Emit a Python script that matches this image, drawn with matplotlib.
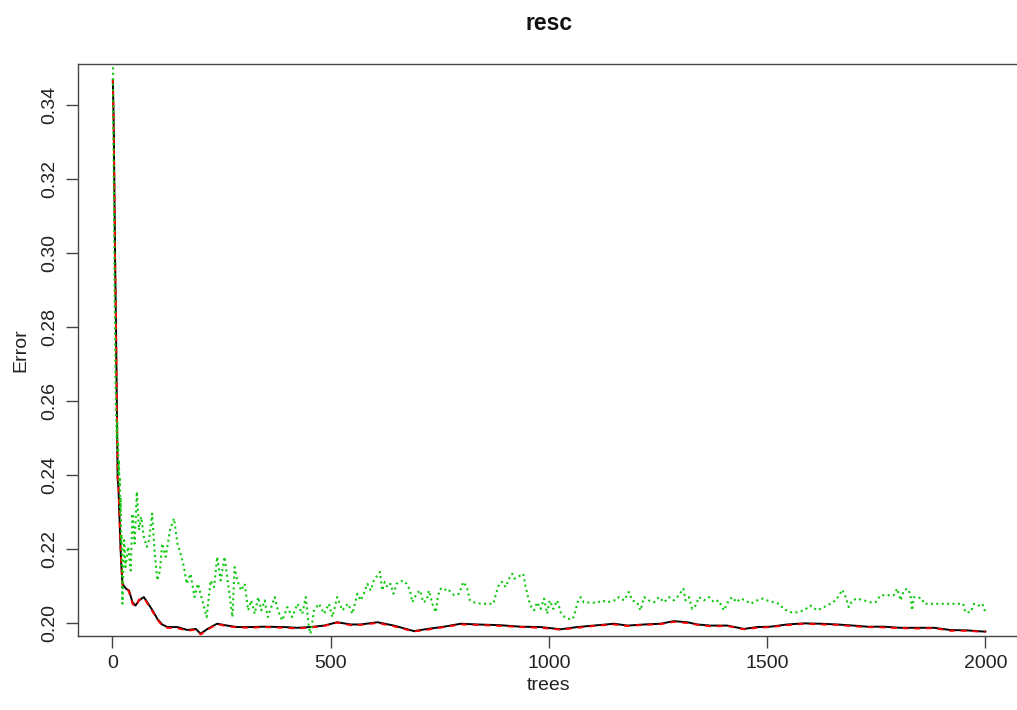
import numpy as np
import matplotlib.pyplot as plt

plt.rcParams['font.family'] = ['Liberation Sans', 'DejaVu Sans']

# OOB error (black) and class 1 error (red) share the same tree positions
trees_oob = [1, 3, 5, 6, 8, 9, 10, 11, 12, 14, 16, 18, 20, 23, 31, 38, 46, 53, 61, 72,
             80, 92, 103, 114, 126, 149, 172, 191, 202, 218, 240, 263, 286, 317, 347, 393,
             424, 454, 485, 515, 546, 569, 607, 645, 691, 722, 760, 798, 836, 889, 935,
             981, 1027, 1065, 1103, 1149, 1180, 1218, 1256, 1286, 1317, 1340, 1370, 1409,
             1447, 1477, 1508, 1546, 1584, 1622, 1660, 1698, 1729, 1767, 1805, 1844, 1882,
             1920, 1958, 1993, 2000]
oob_err = [0.3468, 0.3350, 0.3125, 0.3000, 0.2823, 0.2720, 0.2606, 0.2502, 0.2391, 0.2364,
           0.2292, 0.2224, 0.2165, 0.2106, 0.2093, 0.2088, 0.2056, 0.2047, 0.2061, 0.2070,
           0.2056, 0.2034, 0.2011, 0.1996, 0.1989, 0.1989, 0.1981, 0.1984, 0.1971, 0.1984,
           0.1998, 0.1993, 0.1989, 0.1989, 0.1990, 0.1989, 0.1987, 0.1989, 0.1993, 0.2002,
           0.1996, 0.1996, 0.2002, 0.1993, 0.1978, 0.1984, 0.1990, 0.1998, 0.1996, 0.1994,
           0.1990, 0.1989, 0.1983, 0.1989, 0.1993, 0.1998, 0.1993, 0.1996, 0.1998, 0.2005,
           0.2002, 0.1996, 0.1993, 0.1993, 0.1984, 0.1989, 0.1990, 0.1996, 0.1999, 0.1998,
           0.1996, 0.1993, 0.1990, 0.1990, 0.1987, 0.1987, 0.1987, 0.1981, 0.1980, 0.1977,
           0.1977]
class1_err = [0.3472, 0.3340, 0.3130, 0.2990, 0.2830, 0.2715, 0.2610, 0.2495, 0.2395, 0.2360,
              0.2295, 0.2220, 0.2168, 0.2102, 0.2095, 0.2085, 0.2052, 0.2044, 0.2063, 0.2068,
              0.2053, 0.2031, 0.2009, 0.1993, 0.1987, 0.1986, 0.1979, 0.1982, 0.1969, 0.1982,
              0.1997, 0.1991, 0.1988, 0.1987, 0.1989, 0.1987, 0.1985, 0.1988, 0.1992, 0.2001,
              0.1994, 0.1995, 0.2000, 0.1991, 0.1977, 0.1982, 0.1989, 0.1996, 0.1995, 0.1992,
              0.1989, 0.1987, 0.1982, 0.1987, 0.1992, 0.1996, 0.1992, 0.1995, 0.1997, 0.2003,
              0.2000, 0.1995, 0.1991, 0.1992, 0.1983, 0.1987, 0.1989, 0.1994, 0.1998, 0.1996,
              0.1995, 0.1991, 0.1989, 0.1988, 0.1986, 0.1985, 0.1986, 0.1979, 0.1979, 0.1976,
              0.1976]

# class 2 error (green, dotted)
trees_cls2 = [1, 2, 3, 4, 5, 6, 7, 8, 9, 10, 11, 12, 13, 14, 15, 16, 17, 18, 19, 20, 21, 23,
              25, 27, 30, 36, 42, 46, 51, 56, 61, 66, 72, 79, 84, 91, 97, 103, 109, 114, 122,
              132, 141, 149, 156, 164, 170, 179, 188, 196, 206, 216, 225, 233, 240, 248, 257,
              265, 275, 280, 286, 295, 303, 311, 318, 326, 334, 341, 349, 356, 364, 372, 379,
              389, 401, 412, 424, 435, 443, 450, 454, 462, 473, 485, 496, 504, 515, 527, 540,
              550, 561, 569, 576, 584, 592, 599, 607, 613, 618, 624, 630, 637, 644, 651, 659,
              666, 674, 682, 687, 697, 705, 712, 720, 725, 733, 741, 746, 752, 760, 767, 775,
              783, 794, 804, 812, 819, 828, 844, 859, 873, 878, 886, 893, 901, 909, 916, 921,
              928, 935, 941, 947, 954, 960, 966, 973, 981, 989, 996, 1002, 1010, 1019, 1027,
              1036, 1046, 1055, 1061, 1067, 1073, 1080, 1096, 1111, 1122, 1134, 1149, 1153,
              1160, 1172, 1183, 1191, 1202, 1210, 1218, 1229, 1241, 1252, 1264, 1275, 1286,
              1298, 1308, 1313, 1321, 1328, 1336, 1344, 1355, 1367, 1378, 1389, 1401, 1412,
              1420, 1430, 1439, 1451, 1462, 1477, 1489, 1500, 1515, 1527, 1538, 1554, 1569,
              1584, 1599, 1615, 1630, 1645, 1657, 1667, 1672, 1680, 1687, 1695, 1706, 1722,
              1737, 1748, 1760, 1775, 1790, 1798, 1806, 1813, 1821, 1828, 1832, 1836, 1844,
              1855, 1859, 1905, 1949, 1954, 1966, 1974, 1985, 1993, 2000]
class2_err = [0.362, 0.338, 0.322, 0.305, 0.293, 0.280, 0.268, 0.258, 0.2555, 0.250, 0.254,
              0.246, 0.249, 0.240, 0.244, 0.2375, 0.2390, 0.2300, 0.2340, 0.2220, 0.2240,
              0.2052, 0.2150, 0.2224, 0.2151, 0.2206, 0.2142, 0.2296, 0.2215, 0.2355, 0.2251,
              0.2287, 0.2233, 0.2206, 0.2224, 0.2296, 0.2188, 0.2115, 0.2142, 0.2215, 0.2179,
              0.2251, 0.2283, 0.2215, 0.2188, 0.2151, 0.2106, 0.2133, 0.2070, 0.2106, 0.2061,
              0.2016, 0.2115, 0.2097, 0.2179, 0.2115, 0.2179, 0.2106, 0.2016, 0.2151, 0.2115,
              0.2088, 0.2106, 0.2034, 0.2061, 0.2025, 0.2070, 0.2034, 0.2061, 0.2016, 0.2043,
              0.2070, 0.2034, 0.2007, 0.2043, 0.2016, 0.2052, 0.2025, 0.2070, 0.1989, 0.1971,
              0.2034, 0.2052, 0.2025, 0.2052, 0.2016, 0.2070, 0.2034, 0.2052, 0.2025, 0.2079,
              0.2061, 0.2079, 0.2106, 0.2088, 0.2115, 0.2129, 0.2138, 0.2088, 0.2111, 0.2097,
              0.2106, 0.2079, 0.2106, 0.2111, 0.2115, 0.2106, 0.2088, 0.2056, 0.2079, 0.2088,
              0.2056, 0.2061, 0.2088, 0.2052, 0.2029, 0.2075, 0.2093, 0.2088, 0.2093, 0.2084,
              0.2075, 0.2079, 0.2111, 0.2097, 0.2061, 0.2056, 0.2052, 0.2052, 0.2052, 0.2075,
              0.2106, 0.2111, 0.2097, 0.2120, 0.2133, 0.2120, 0.2124, 0.2129, 0.2133, 0.2097,
              0.2061, 0.2043, 0.2034, 0.2056, 0.2038, 0.2066, 0.2025, 0.2061, 0.2038, 0.2061,
              0.2029, 0.2016, 0.2011, 0.2011, 0.2034, 0.2061, 0.2070, 0.2056, 0.2055, 0.2055,
              0.2061, 0.2056, 0.2061, 0.2061, 0.2070, 0.2061, 0.2084, 0.2061, 0.2056, 0.2034,
              0.2070, 0.2061, 0.2056, 0.2070, 0.2056, 0.2070, 0.2061, 0.2075, 0.2093, 0.2061,
              0.2070, 0.2038, 0.2047, 0.2070, 0.2061, 0.2070, 0.2056, 0.2061, 0.2034, 0.2061,
              0.2070, 0.2056, 0.2066, 0.2061, 0.2052, 0.2061, 0.2066, 0.2061, 0.2056, 0.2052,
              0.2038, 0.2029, 0.2029, 0.2034, 0.2047, 0.2034, 0.2043, 0.2052, 0.2061, 0.2079,
              0.2090, 0.2070, 0.2043, 0.2061, 0.2066, 0.2061, 0.2056, 0.2056, 0.2075, 0.2075,
              0.2075, 0.2093, 0.2061, 0.2088, 0.2093, 0.2079, 0.2034, 0.2070, 0.2070, 0.2066,
              0.2052, 0.2052, 0.2052, 0.2029, 0.2029, 0.2052, 0.2047, 0.2052, 0.2029]

x_ticks = [0, 500, 1000, 1500, 2000]
y_ticks = [0.20, 0.22, 0.24, 0.26, 0.28, 0.30, 0.32, 0.34]

fig = plt.figure(figsize=(10.17, 7.10), dpi=100)
# right side of the box runs just past the image edge, like the original
ax = fig.add_axes([77.5 / 1017, 74 / 710, 942.8 / 1017, 571.7 / 710])

ax.plot(trees_oob, oob_err, color='black', lw=1.4)
ax.plot(trees_oob, class1_err, color='red', lw=1.4, linestyle=(0, (3, 3)))
ax.plot(trees_cls2, class2_err, color='#10C810', lw=1.5, linestyle=(0, (1, 1.6)))

ax.set_xlim(-79.96, 2079.96)
ax.set_ylim(0.19648, 0.3511)

ax.set_xticks(x_ticks)
ax.set_xticklabels([str(t) for t in x_ticks])
ax.set_yticks(y_ticks)
ax.set_yticklabels(['%.2f' % v for v in y_ticks], rotation=90, va='center')

ax.tick_params(length=8.6, width=1.0, color='#444444', labelsize=14, labelcolor='#222222')
ax.tick_params(axis='x', pad=5)
ax.tick_params(axis='y', pad=5.5)
for s in ax.spines.values():
    s.set_color('#444444')
    s.set_linewidth(1.0)

ax.set_xlabel('trees', fontsize=14, color='#222222', labelpad=4)
ax.set_ylabel('Error', fontsize=14, color='#222222', labelpad=8)
ax.set_title('resc', fontsize=16.5, fontweight='bold', color='#111111', pad=25)

fig.savefig('out.png', dpi=100)
